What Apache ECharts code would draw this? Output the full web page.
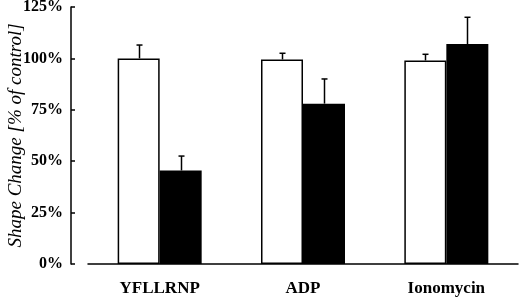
<!DOCTYPE html>
<html>
<head>
<meta charset="utf-8">
<script src="https://cdn.jsdelivr.net/npm/echarts@6/dist/echarts.min.js"></script>
<style>
  html, body { margin: 0; padding: 0; background: #fff; }
  #main { width: 520px; height: 307px; }
</style>
</head>
<body>
<div id="main"></div>
<script>
// data
var categories = ['YFLLRNP', 'ADP', 'Ionomycin'];
var whiteVals = [100, 99.5, 99];
var whiteErr = [6.5, 3, 3];
var blackVals = [45.5, 78, 107];
var blackErr = [7, 12, 13];
var yTicks = [0, 25, 50, 75, 100, 125];

var myChart = echarts.init(document.getElementById('main'));

var serif = '"Liberation Serif", "DejaVu Serif", serif';
var barW = 42;

// error bar drawn on top of a bar, shifted to the bar's slot
function errItem(shift) {
  return function (params, api) {
    var idx = api.value(0);
    var top = api.coord([idx, api.value(1) + api.value(2)]);
    var base = api.coord([idx, api.value(1)]);
    var x = Math.round(top[0] + shift) + 0.5;
    return {
      type: 'group',
      children: [
        { type: 'line', shape: { x1: x, y1: base[1], x2: x, y2: top[1] }, style: { stroke: '#000', lineWidth: 1.5 } },
        { type: 'line', shape: { x1: x - 3, y1: top[1], x2: x + 3, y2: top[1] }, style: { stroke: '#000', lineWidth: 1.5 } }
      ]
    };
  };
}

var option = {
  animation: false,
  grid: { left: 88, right: 2, top: 7, bottom: 43, outerBoundsMode: 'none', containLabel: false },
  xAxis: {
    type: 'category',
    data: categories,
    axisLine: { lineStyle: { color: '#000', width: 1.5 } },
    axisTick: { inside: true, length: 4, lineStyle: { color: '#000', width: 1.5 } },
    axisLabel: { color: '#000', fontFamily: serif, fontWeight: 'bold', fontSize: 17, margin: 16 }
  },
  yAxis: {
    type: 'value',
    min: 0,
    max: 125,
    interval: 25,
    offset: 17,
    name: 'Shape Change [% of control]',
    nameLocation: 'middle',
    nameGap: 46,
    nameMoveOverlap: false,
    nameTextStyle: { color: '#000', fontFamily: serif, fontStyle: 'italic', fontSize: 19 },
    axisLine: { show: true, lineStyle: { color: '#000', width: 1.5 } },
    axisTick: { show: true, inside: true, length: 4, lineStyle: { color: '#000', width: 1.5 } },
    splitLine: { show: false },
    axisLabel: {
      color: '#000', fontFamily: serif, fontWeight: 'bold', fontSize: 16, margin: 8,
      formatter: function (v) { return yTicks.indexOf(v) >= 0 ? v + '%' : ''; }
    }
  },
  series: [
    {
      type: 'bar',
      data: whiteVals,
      barWidth: barW,
      barGap: '0%',
      itemStyle: { color: '#fff', borderColor: '#000', borderWidth: 1.5 }
    },
    {
      type: 'bar',
      data: blackVals,
      barWidth: barW,
      barGap: '0%',
      itemStyle: { color: '#000' }
    },
    {
      type: 'custom',
      renderItem: errItem(-barW / 2),
      data: whiteVals.map(function (v, i) { return [i, v, whiteErr[i]]; }),
      z: 5
    },
    {
      type: 'custom',
      renderItem: errItem(barW / 2),
      data: blackVals.map(function (v, i) { return [i, v, blackErr[i]]; }),
      z: 5
    }
  ]
};

myChart.setOption(option);
</script>
</body>
</html>
